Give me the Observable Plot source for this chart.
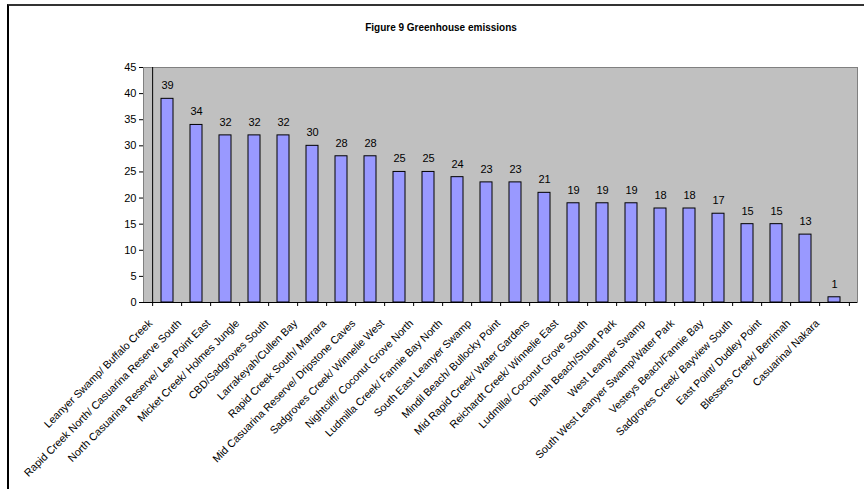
<!DOCTYPE html>
<html>
<head>
<meta charset="utf-8">
<script src="https://cdn.jsdelivr.net/npm/d3@7"></script>
<script src="https://cdn.jsdelivr.net/npm/@observablehq/plot@0.6"></script>
<style>
  html, body { margin: 0; padding: 0; background: #fff; }
  body { width: 864px; height: 489px; position: relative; overflow: hidden; font-family: "Liberation Sans", Arial, sans-serif; }
  #frame { position: absolute; left: 7px; top: 4px; width: 870px; height: 500px; border-left: 2px solid #000; border-top: 2px solid #333; box-sizing: border-box; }
  #title { position: absolute; left: 0; width: 882px; top: 22px; text-align: center; font-weight: bold; font-size: 10px; color: #000; }
  #chart { position: absolute; left: 0; top: 0; }
</style>
</head>
<body>
<div id="frame"></div>
<div id="chart"></div>
<div id="title">Figure 9 Greenhouse emissions</div>
<script>
const categories = [
  "Leanyer Swamp/ Buffalo Creek",
  "Rapid Creek North/ Casuarina Reserve South",
  "North Casuarina Reserve/ Lee Point East",
  "Micket Creek/ Holmes Jungle",
  "CBD/Sadgroves South",
  "Larrakeyah/Cullen Bay",
  "Rapid Creek South/ Marrara",
  "Mid Casuarina Reserve/ Dripstone Caves",
  "Sadgroves Creek/ Winnelie West",
  "Nightcliff/ Coconut Grove North",
  "Ludmilla Creek/ Fannie Bay North",
  "South East Leanyer Swamp",
  "Mindil Beach/ Bullocky Point",
  "Mid Rapid Creek/ Water Gardens",
  "Reichardt Creek/ Winnelie East",
  "Ludmilla/ Coconut Grove South",
  "Dinah Beach/Stuart Park",
  "West Leanyer Swamp",
  "South West Leanyer Swamp/Water Park",
  "Vesteys Beach/Fannie Bay",
  "Sadgroves Creek/ Bayview South",
  "East Point/ Dudley Point",
  "Blessers Creek/ Berrimah",
  "Casuarina/ Nakara"
];
const values = [39, 34, 32, 32, 32, 30, 28, 28, 25, 25, 24, 23, 23, 21, 19, 19, 19, 18, 18, 17, 15, 15, 13, 1];
const yTicks = [0, 5, 10, 15, 20, 25, 30, 35, 40, 45];

const data = categories.map((c, i) => ({category: c, value: values[i]}));

const W = 864, H = 489;
const mL = 143, mR = 7, mT = 67, mB = 187;
const step = (W - mL - mR) / categories.length;

const plot = Plot.plot({
  width: W,
  height: H,
  marginLeft: mL,
  marginRight: mR,
  marginTop: mT,
  marginBottom: mB,
  style: {fontFamily: "'Liberation Sans', Arial, sans-serif", background: "transparent", color: "#000", overflow: "visible"},
  x: {domain: categories, paddingInner: 0.6, paddingOuter: 0.3, label: null},
  y: {domain: [0, 45], label: null},
  marks: [
    Plot.frame({fill: "#C0C0C0", stroke: "#808080"}),
    Plot.barY(data, {x: "category", y: "value", fill: "#9999FF", stroke: "#000", strokeWidth: 1}),
    Plot.text(data, {x: "category", y: "value", text: d => String(d.value), dy: -13, fontSize: 11, fill: "#000"}),
    Plot.axisY({ticks: yTicks, tickSize: 4, tickPadding: 3, fontSize: 11, label: null}),
    Plot.ruleY([0], {stroke: "#000"}),
    Plot.ruleX([categories[0]], {dx: -step / 2, stroke: "#000"}),
    Plot.axisX({ticks: categories, tickFormat: () => "", tickSize: 4, dx: -step / 2, label: null}),
    Plot.axisX({ticks: [categories[categories.length - 1]], tickFormat: () => "", tickSize: 4, dx: step / 2, label: null}),
    Plot.axisX({ticks: categories, tickSize: 0, tickRotate: -45, tickPadding: 19, dx: -17, fontSize: 10.7, label: null})
  ]
});
document.getElementById("chart").appendChild(plot);
</script>
</body>
</html>
